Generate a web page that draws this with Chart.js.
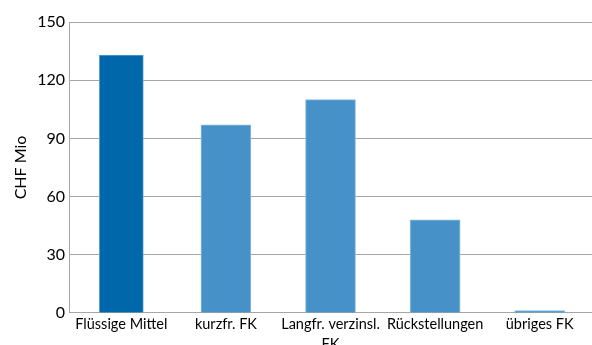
<!DOCTYPE html>
<html>
<head>
<meta charset="utf-8">
<script src="https://cdn.jsdelivr.net/npm/chart.js@4/dist/chart.umd.min.js"></script>
<style>
  html, body { margin: 0; padding: 0; background: #fff; overflow: hidden; }
  #wrap { width: 592px; height: 345px; overflow: hidden; }
</style>
</head>
<body>
<div id="wrap"><canvas id="myChart" width="592" height="356"></canvas></div>
<script>
var categories = ['Flüssige Mittel', 'kurzfr. FK', ['Langfr. verzinsl.', 'FK'], 'Rückstellungen', 'übriges FK'];
var liquidValues = [133, null, null, null, null];
var debtValues = [null, 97, 110, 48, 1.3];
var yTicks = [0, 30, 60, 90, 120, 150];

var ctx = document.getElementById('myChart');

var graphData = {
    type: 'bar',
    data: {
        labels: categories,
        datasets: [{
            label: 'Aktiven',
            data: liquidValues,
            backgroundColor: '#0067aa',
            borderColor: '#5d9fd0',
            borderWidth: 1,
            barThickness: 44
        }, {
            label: 'Passiven',
            data: debtValues,
            backgroundColor: '#4692c8',
            borderColor: '#8cbde3',
            borderWidth: 1,
            barThickness: 50
        }]
    },
    options: {
        responsive: false,
        animation: false,
        layout: { padding: { top: 22, left: 11, right: 0, bottom: 0 } },
        plugins: {
            legend: { display: false },
            tooltip: { enabled: false }
        },
        scales: {
            x: {
                stacked: true,
                grid: { display: false, drawTicks: false },
                border: { color: '#a6a6a6', width: 1 },
                ticks: {
                    color: '#000',
                    padding: 2,
                    maxRotation: 0,
                    autoSkip: false,
                    font: { family: 'Lato', size: 14.5, lineHeight: 1.345 }
                }
            },
            y: {
                stacked: true,
                min: 0,
                max: 150,
                afterBuildTicks: function(axis) {
                    axis.ticks = yTicks.map(function(v) { return { value: v }; });
                },
                grid: { color: '#a6a6a6', lineWidth: 1, drawTicks: false },
                border: { color: '#a6a6a6', width: 1 },
                ticks: {
                    color: '#000',
                    padding: 4,
                    font: { family: 'Lato', size: 16 }
                },
                title: {
                    display: true,
                    text: 'CHF Mio',
                    color: '#000',
                    padding: { top: 0, bottom: 3 },
                    font: { family: 'Lato', size: 16 }
                }
            }
        }
    }
};

var myChart = new Chart(ctx, graphData);
</script>
</body>
</html>
